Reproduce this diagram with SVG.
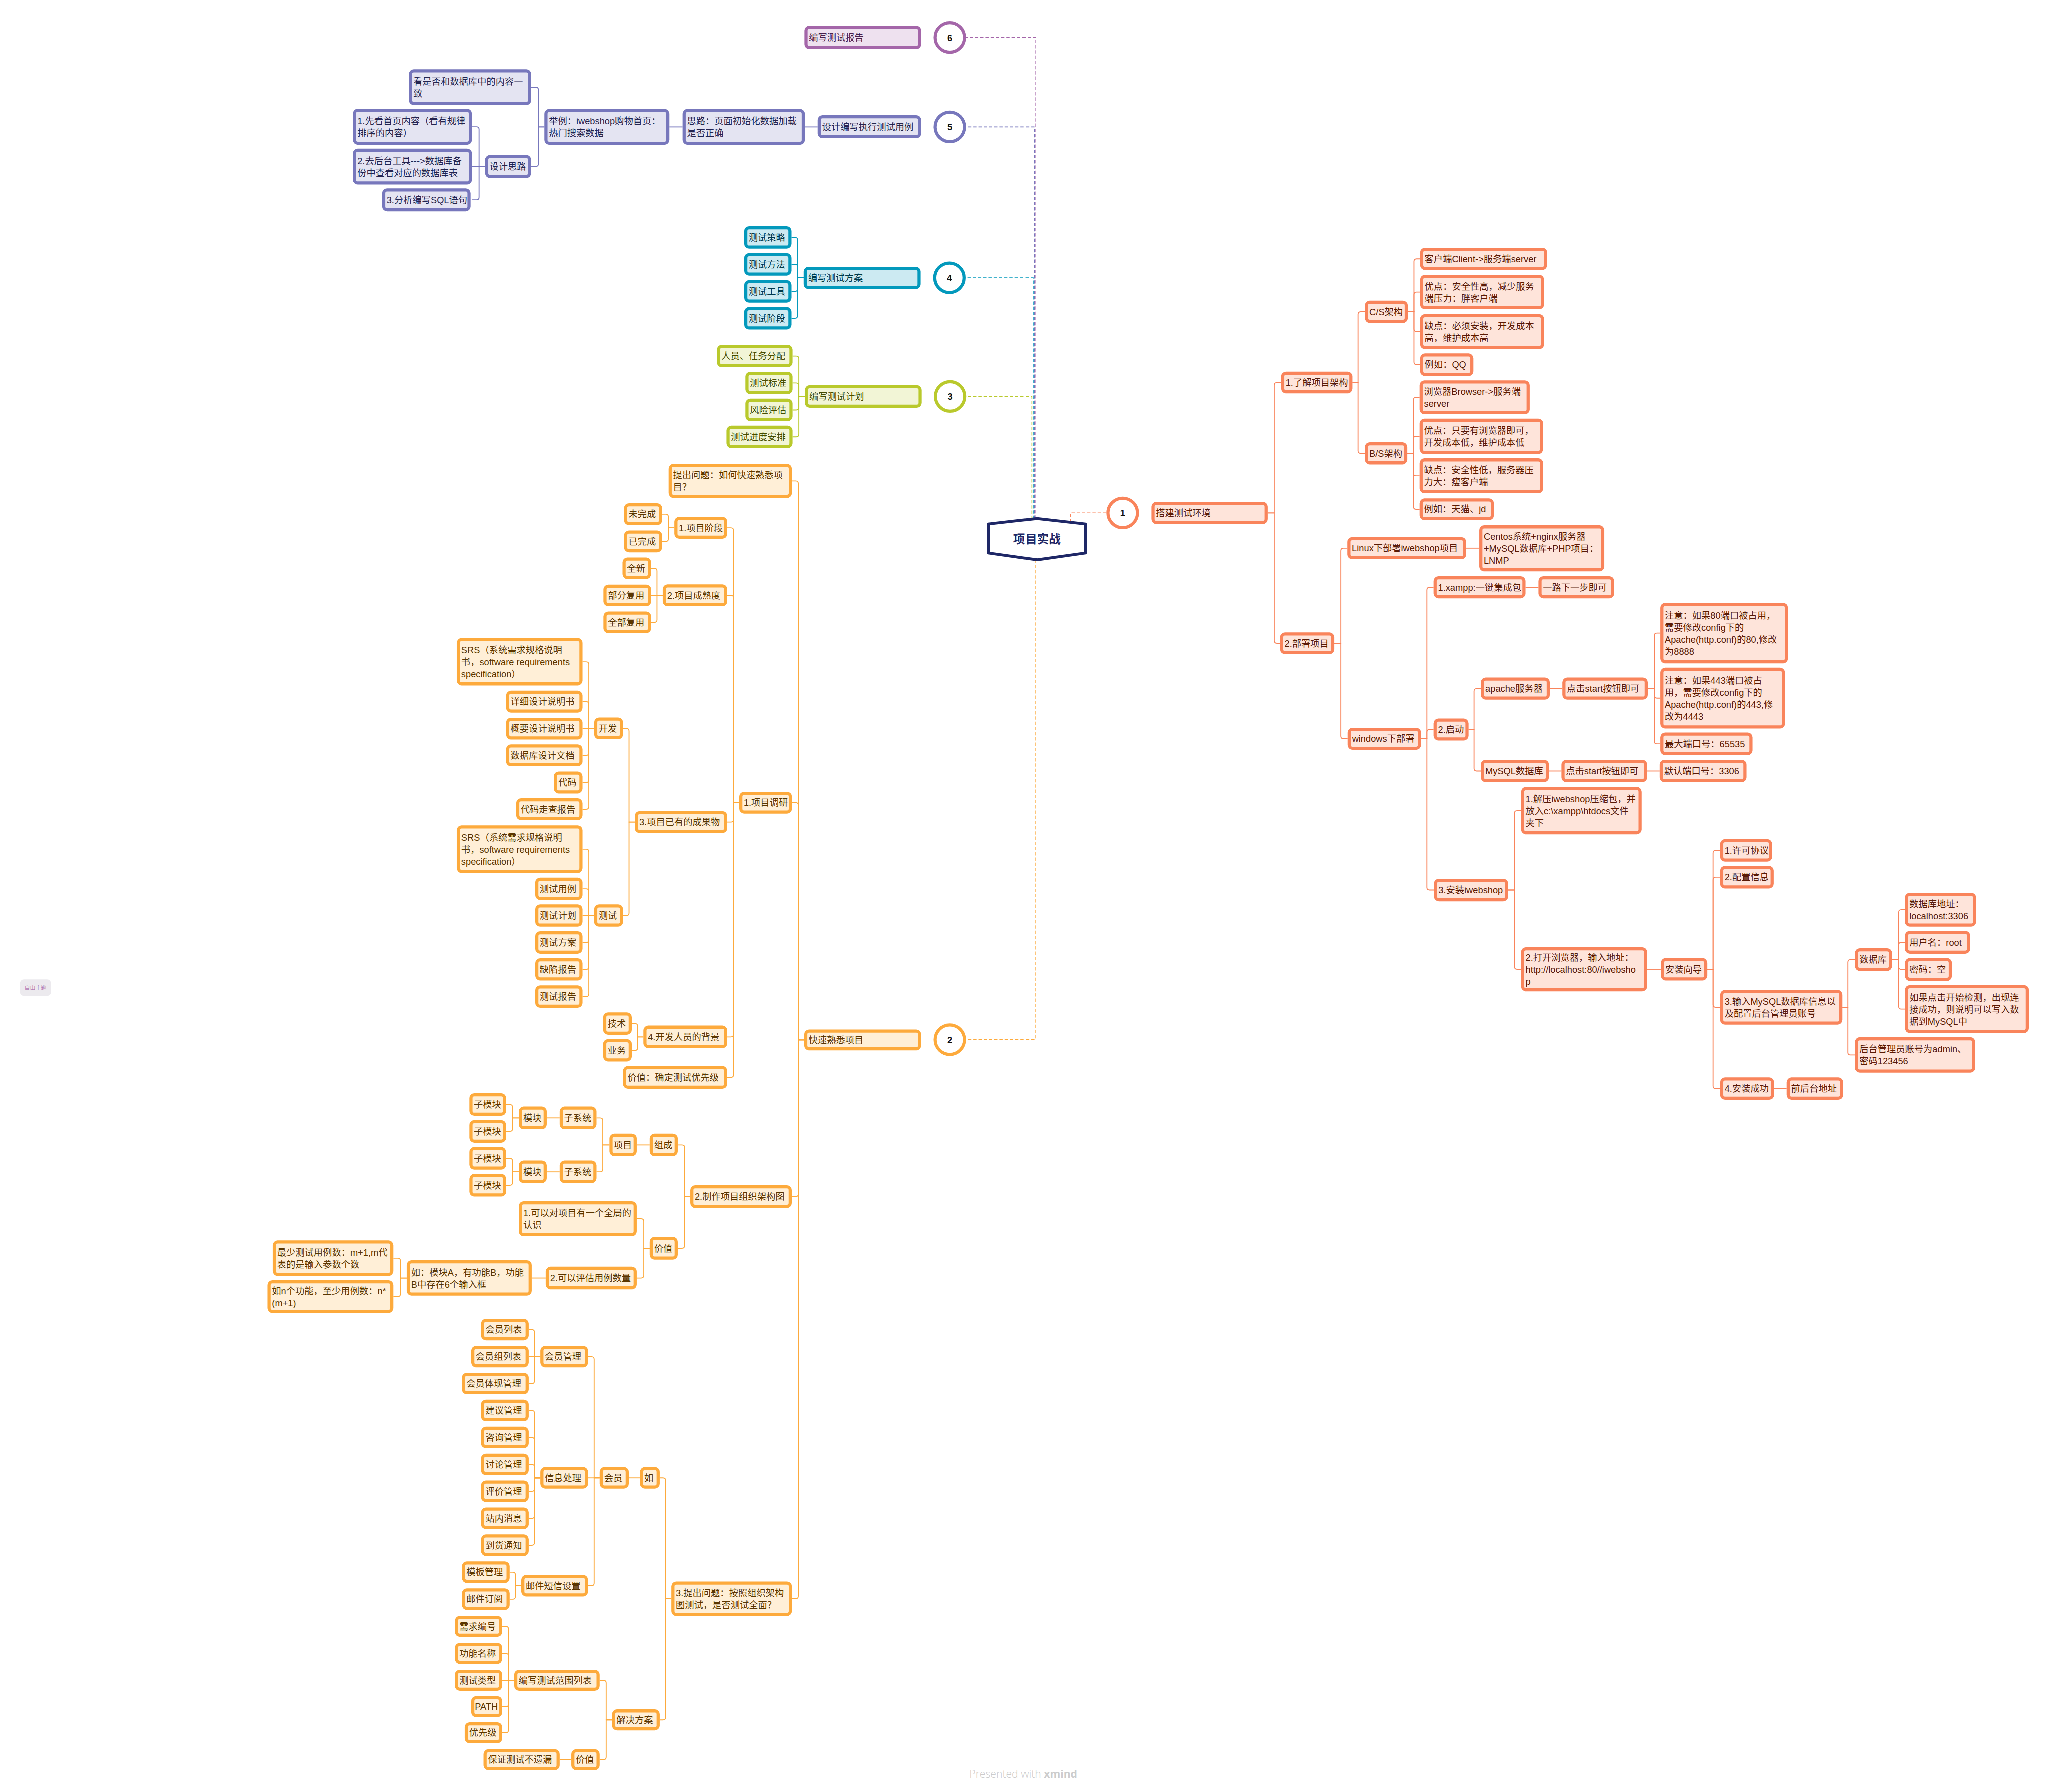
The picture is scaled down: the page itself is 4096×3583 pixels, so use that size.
<svg xmlns="http://www.w3.org/2000/svg" width="4096" height="3583" viewBox="0 0 4096 3583">
<style>
text{font-family:"Liberation Sans","Noto Sans CJK SC",sans-serif;font-size:7px;dominant-baseline:central}
.n rect{stroke-width:2.4px;rx:2.5px}
.o rect{fill:#FEE4DA;stroke:#F9845B}.o text{fill:#5A1A06}
.y rect{fill:#FFEFD7;stroke:#FDAA3C}.y text{fill:#5B3600}
.g rect{fill:#F2F5D6;stroke:#B9C92C}.g text{fill:#464D00}
.b rect{fill:#CCEAF2;stroke:#0399BC}.b text{fill:#00394A}
.v rect{fill:#E4E4F2;stroke:#7777BC}.v text{fill:#24244F}
.p rect{fill:#EEE1EF;stroke:#A466A9}.p text{fill:#47204D}
.cn path{fill:none;stroke-width:0.7px}
.dl path{fill:none;stroke-width:0.6px;stroke-dasharray:2.5 1.5}
.ci circle{fill:#fff;stroke-width:2.4px}
.ci text{font-weight:bold;text-anchor:middle;fill:#111}
</style>
<rect width="4096" height="3583" fill="#fff"/>
<g transform="scale(2.612245)">
<g id="connectors">
<g class="dl">
<path stroke="#F9845B" d="M819,399.7V392.5H846.5"/>
<path stroke="#FDAA3C" d="M792,428.3V795.8H739.5"/>
<path stroke="#B9C92C" d="M789.5,397.2V303.3H739.7"/>
<path stroke="#0399BC" d="M790.5,397.1V212.5H739.2"/>
<path stroke="#7777BC" d="M791.5,397V97H739.5"/>
<path stroke="#A466A9" d="M792.5,396.9V28.6H739.5"/>
</g>
<g class="cn" stroke="#F9845B">
<path d="M970,392.5H975V294.7Q975,292.7 977,292.7H980.3"/>
<path d="M970,392.5H975V490.3Q975,492.3 977,492.3H979.5"/>
<path d="M1034.9,292.7H1039.2V240.5Q1039.2,238.5 1041.2,238.5H1044.4"/>
<path d="M1034.9,292.7H1039.2V344.9Q1039.2,346.9 1041.2,346.9H1044.4"/>
<path d="M1077.3,238.5H1082V200Q1082,198 1084,198H1086.7"/>
<path d="M1077.3,238.5H1082V225.4Q1082,223.4 1084,223.4H1086.7"/>
<path d="M1077.3,238.5H1082V251.7Q1082,253.7 1084,253.7H1086.7"/>
<path d="M1077.3,238.5H1082V277Q1082,279 1084,279H1086.7"/>
<path d="M1076.9,346.9H1081.6V306Q1081.6,304 1083.6,304H1086.3"/>
<path d="M1076.9,346.9H1081.6V335.8Q1081.6,333.8 1083.6,333.8H1086.3"/>
<path d="M1076.9,346.9H1081.6V362.1Q1081.6,364.1 1083.6,364.1H1086.3"/>
<path d="M1076.9,346.9H1081.6V387.7Q1081.6,389.7 1083.6,389.7H1086.3"/>
<path d="M1021,492.3H1026V421.5Q1026,419.5 1028,419.5H1031"/>
<path d="M1021,492.3H1026V563.4Q1026,565.4 1028,565.4H1031.2"/>
<path d="M1122,419.5H1132"/>
<path d="M1087.4,565.4H1091.9V451.5Q1091.9,449.5 1093.9,449.5H1097"/>
<path d="M1087.4,565.4H1091.9V560.3Q1091.9,558.3 1093.9,558.3H1097"/>
<path d="M1087.4,565.4H1091.9V679.2Q1091.9,681.2 1093.9,681.2H1097.3"/>
<path d="M1167.4,449.5H1177.3"/>
<path d="M1123.8,558.3H1128V529Q1128,527 1130,527H1133.2"/>
<path d="M1123.8,558.3H1128V588.1Q1128,590.1 1130,590.1H1133.2"/>
<path d="M1186,527H1195.6"/>
<path d="M1261,527H1266V486.5Q1266,484.5 1268,484.5H1270.6"/>
<path d="M1261,527H1266V532.3Q1266,534.3 1268,534.3H1270.6"/>
<path d="M1261,527H1266V567.3Q1266,569.3 1268,569.3H1270.6"/>
<path d="M1185.3,590.1H1194.9"/>
<path d="M1260.5,590.1H1270.1"/>
<path d="M1154.1,681.2H1158.9V622.5Q1158.9,620.5 1160.9,620.5H1164"/>
<path d="M1154.1,681.2H1158.9V739.9Q1158.9,741.9 1160.9,741.9H1164"/>
<path d="M1260.5,741.9H1271"/>
<path d="M1306.6,741.9H1311V652.9Q1311,650.9 1313,650.9H1316.4"/>
<path d="M1306.6,741.9H1311V673.4Q1311,671.4 1313,671.4H1316.4"/>
<path d="M1306.6,741.9H1311V769Q1311,771 1313,771H1316.4"/>
<path d="M1306.6,741.9H1311V831.3Q1311,833.3 1313,833.3H1316.4"/>
<path d="M1357.7,833.3H1367.3"/>
<path d="M1410,771H1414.2V736.5Q1414.2,734.5 1416.2,734.5H1419.6"/>
<path d="M1410,771H1414.2V805.5Q1414.2,807.5 1416.2,807.5H1419.6"/>
<path d="M1448,734.5H1453.1V698.3Q1453.1,696.3 1455.1,696.3H1457.9"/>
<path d="M1448,734.5H1453.1V723.3Q1453.1,721.3 1455.1,721.3H1457.9"/>
<path d="M1448,734.5H1453.1V740Q1453.1,742 1455.1,742H1457.9"/>
<path d="M1448,734.5H1453.1V770.4Q1453.1,772.4 1455.1,772.4H1457.9"/>
</g>
<g class="cn" stroke="#FDAA3C">
<path d="M615.5,796H611V370Q611,368 609,368H606.1"/>
<path d="M615.5,796H611V616.3Q611,614.3 609,614.3H606.1"/>
<path d="M615.5,796H611V914Q611,916 609,916H606"/>
<path d="M615.5,796H611V1221.8Q611,1223.8 609,1223.8H606.1"/>
<path d="M565.8,614.3H561.4V405.9Q561.4,403.9 559.4,403.9H556.6"/>
<path d="M565.8,614.3H561.4V457.6Q561.4,455.6 559.4,455.6H556.6"/>
<path d="M565.8,614.3H561.4V627.2Q561.4,629.2 559.4,629.2H556.6"/>
<path d="M565.8,614.3H561.4V791.7Q561.4,793.7 559.4,793.7H556.6"/>
<path d="M565.8,614.3H561.4V822.7Q561.4,824.7 559.4,824.7H556.6"/>
<path d="M516.1,403.9H511.5V395.5Q511.5,393.5 509.5,393.5H506.7"/>
<path d="M516.1,403.9H511.5V412.4Q511.5,414.4 509.5,414.4H506.7"/>
<path d="M507.2,455.6H502.8V436.9Q502.8,434.9 500.8,434.9H498.3"/>
<path d="M507.2,455.6H498.3"/>
<path d="M507.2,455.6H502.8V474.3Q502.8,476.3 500.8,476.3H498.3"/>
<path d="M485.8,629.2H481.4V559.5Q481.4,557.5 479.4,557.5H476.8"/>
<path d="M485.8,629.2H481.4V698.8Q481.4,700.8 479.4,700.8H476.8"/>
<path d="M454.7,557.5H450.6V508.5Q450.6,506.5 448.6,506.5H445.8"/>
<path d="M454.7,557.5H450.6V539Q450.6,537 448.6,537H445.8"/>
<path d="M454.7,557.5H445.8"/>
<path d="M454.7,557.5H450.6V576.1Q450.6,578.1 448.6,578.1H445.8"/>
<path d="M454.7,557.5H450.6V596.9Q450.6,598.9 448.6,598.9H445.8"/>
<path d="M454.7,557.5H450.6V617.4Q450.6,619.4 448.6,619.4H445.8"/>
<path d="M454.7,700.8H450.6V652Q450.6,650 448.6,650H445.8"/>
<path d="M454.7,700.8H450.6V682.3Q450.6,680.3 448.6,680.3H445.8"/>
<path d="M454.7,700.8H445.8"/>
<path d="M454.7,700.8H450.6V719.4Q450.6,721.4 448.6,721.4H445.8"/>
<path d="M454.7,700.8H450.6V740Q450.6,742 448.6,742H445.8"/>
<path d="M454.7,700.8H450.6V760.8Q450.6,762.8 448.6,762.8H445.8"/>
<path d="M492.4,793.7H488V785.5Q488,783.5 486,783.5H483.5"/>
<path d="M492.4,793.7H488V802Q488,804 486,804H483.5"/>
<path d="M528.3,916H524V878.4Q524,876.4 522,876.4H518.7"/>
<path d="M528.3,916H524V953.5Q524,955.5 522,955.5H518.7"/>
<path d="M497.2,876.4H487.3"/>
<path d="M466.4,876.4H461.3V857.7Q461.3,855.7 459.3,855.7H456.5"/>
<path d="M466.4,876.4H461.3V895Q461.3,897 459.3,897H456.5"/>
<path d="M428.3,855.7H418.4"/>
<path d="M428.3,897H418.4"/>
<path d="M397,855.7H392.2V847.5Q392.2,845.5 390.2,845.5H387.3"/>
<path d="M397,855.7H392.2V864Q392.2,866 390.2,866H387.3"/>
<path d="M397,897H392.2V888.7Q392.2,886.7 390.2,886.7H387.3"/>
<path d="M397,897H392.2V905.3Q392.2,907.3 390.2,907.3H387.3"/>
<path d="M497.2,955.5H492.7V934.9Q492.7,932.9 490.7,932.9H487.3"/>
<path d="M497.2,955.5H492.7V976.3Q492.7,978.3 490.7,978.3H487.3"/>
<path d="M417.6,978.3H406.9"/>
<path d="M311.2,978.3H306.4V965.1Q306.4,963.1 304.4,963.1H301"/>
<path d="M311.2,978.3H306.4V990.5Q306.4,992.5 304.4,992.5H301"/>
<path d="M513.8,1223.8H509.4V1133.3Q509.4,1131.3 507.4,1131.3H504.9"/>
<path d="M513.8,1223.8H509.4V1314.6Q509.4,1316.6 507.4,1316.6H504.9"/>
<path d="M489.8,1131.3H481.2"/>
<path d="M458.9,1131.3H454.7V1040.5Q454.7,1038.5 452.7,1038.5H450"/>
<path d="M458.9,1131.3H450"/>
<path d="M458.9,1131.3H454.7V1211.9Q454.7,1213.9 452.7,1213.9H450"/>
<path d="M413.5,1038.5H409V1019.8Q409,1017.8 407,1017.8H404.6"/>
<path d="M413.5,1038.5H404.6"/>
<path d="M413.5,1038.5H409V1057.1Q409,1059.1 407,1059.1H404.6"/>
<path d="M413.5,1131.3H409V1081.7Q409,1079.7 407,1079.7H404.6"/>
<path d="M413.5,1131.3H409V1102.4Q409,1100.4 407,1100.4H404.6"/>
<path d="M413.5,1131.3H409V1123Q409,1121 407,1121H404.6"/>
<path d="M413.5,1131.3H409V1139.6Q409,1141.6 407,1141.6H404.6"/>
<path d="M413.5,1131.3H409V1160.3Q409,1162.3 407,1162.3H404.6"/>
<path d="M413.5,1131.3H409V1180.9Q409,1182.9 407,1182.9H404.6"/>
<path d="M398.9,1213.9H394.4V1205.5Q394.4,1203.5 392.4,1203.5H390"/>
<path d="M398.9,1213.9H394.4V1222.2Q394.4,1224.2 392.4,1224.2H390"/>
<path d="M468.4,1316.6H463.9V1288.3Q463.9,1286.3 461.9,1286.3H458.9"/>
<path d="M468.4,1316.6H463.9V1345Q463.9,1347 461.9,1347H458.9"/>
<path d="M437.2,1347H428.3"/>
<path d="M393.5,1286.3H389.1V1247Q389.1,1245 387.1,1245H384.3"/>
<path d="M393.5,1286.3H389.1V1267.7Q389.1,1265.7 387.1,1265.7H384.3"/>
<path d="M393.5,1286.3H384.3"/>
<path d="M393.5,1286.3H389.1V1304.5Q389.1,1306.5 387.1,1306.5H384.3"/>
<path d="M393.5,1286.3H389.1V1324.4Q389.1,1326.4 387.1,1326.4H384.3"/>
</g>
<g class="cn" stroke="#B9C92C">
<path d="M616,303.3H611.4V274.4Q611.4,272.4 609.4,272.4H606.6"/>
<path d="M616,303.3H611.4V295Q611.4,293 609.4,293H606.6"/>
<path d="M616,303.3H611.4V311.7Q611.4,313.7 609.4,313.7H606.6"/>
<path d="M616,303.3H611.4V332.3Q611.4,334.3 609.4,334.3H606.6"/>
</g>
<g class="cn" stroke="#0399BC">
<path d="M615.1,212.5H610.5V183.6Q610.5,181.6 608.5,181.6H605.8"/>
<path d="M615.1,212.5H610.5V204.2Q610.5,202.2 608.5,202.2H605.8"/>
<path d="M615.1,212.5H610.5V220.9Q610.5,222.9 608.5,222.9H605.8"/>
<path d="M615.1,212.5H610.5V241.5Q610.5,243.5 608.5,243.5H605.8"/>
</g>
<g class="cn" stroke="#7777BC">
<path d="M625.8,97H616"/>
<path d="M522.4,97H512.3"/>
<path d="M416.6,97H412V68.6Q412,66.6 410,66.6H406.5"/>
<path d="M416.6,97H412V125.3Q412,127.3 410,127.3H406.5"/>
<path d="M371.2,127.3H366.6V98.9Q366.6,96.9 364.6,96.9H361.1"/>
<path d="M371.2,127.3H361.1"/>
<path d="M371.2,127.3H366.6V150.8Q366.6,152.8 364.6,152.8H361.1"/>
</g>
</g>

<g id="center"><polygon points="756.5,401 793.5,396.8 830.5,401 830.5,423.2 793.5,428.4 756.5,423.2" fill="#fff" stroke="#1E2766" stroke-width="2.2" stroke-linejoin="round"/><text x="793.5" y="412.6" text-anchor="middle" style="font-size:9px;font-weight:bold;fill:#1E2766">项目实战</text></g>

<g class="ci">
<g id="c6"><circle cx="727" cy="28.6" r="11.3" stroke="#A466A9"/><text x="727" y="28.8">6</text></g>
<g id="c5"><circle cx="727" cy="97" r="11.3" stroke="#7777BC"/><text x="727" y="97.2">5</text></g>
<g id="c4"><circle cx="726.7" cy="212.5" r="11.3" stroke="#0399BC"/><text x="726.7" y="212.7">4</text></g>
<g id="c3"><circle cx="727.2" cy="303.3" r="11.3" stroke="#B9C92C"/><text x="727.2" y="303.5">3</text></g>
<g id="c1"><circle cx="859" cy="392.5" r="11.3" stroke="#F9845B"/><text x="859" y="392.7">1</text></g>
<g id="c2"><circle cx="727" cy="795.8" r="11.3" stroke="#FDAA3C"/><text x="727" y="796">2</text></g>
</g>

<g id="branch1">
<g id="A1" class="n o"><rect x="882.2" y="385.2" width="86.6" height="14.6"/><text x="884.4" y="392.5">搭建测试环境</text></g>
<g id="A2" class="n o"><rect x="981.5" y="285.5" width="52.2" height="14.3"/><text x="983.7" y="292.7">1.了解项目架构</text></g>
<g id="A3" class="n o"><rect x="980.7" y="485.2" width="39.1" height="14.3"/><text x="982.9" y="492.3">2.部署项目</text></g>
<g id="A4" class="n o"><rect x="1045.6" y="231.2" width="30.5" height="14.6"/><text x="1047.8" y="238.5">C/S架构</text></g>
<g id="A5" class="n o"><rect x="1045.6" y="339.6" width="30.1" height="14.6"/><text x="1047.8" y="346.9">B/S架构</text></g>
<g id="A6" class="n o"><rect x="1087.9" y="190.7" width="94.9" height="14.6"/><text x="1090.1" y="198">客户端Client-&gt;服务端server</text></g>
<g id="A7" class="n o"><rect x="1087.9" y="211.4" width="92.5" height="24"/><text><tspan x="1090.1" y="218.8">优点：安全性高，减少服务</tspan><tspan x="1090.1" y="228">端压力：胖客户端</tspan></text></g>
<g id="A8" class="n o"><rect x="1087.9" y="241.5" width="92.5" height="24.4"/><text><tspan x="1090.1" y="249.1">缺点：必须安装，开发成本</tspan><tspan x="1090.1" y="258.3">高，维护成本高</tspan></text></g>
<g id="A9" class="n o"><rect x="1087.9" y="271.6" width="38.4" height="14.9"/><text x="1090.1" y="279">例如：QQ</text></g>
<g id="A10" class="n o"><rect x="1087.5" y="292.2" width="81.9" height="23.6"/><text><tspan x="1089.7" y="299.4">浏览器Browser-&gt;服务端</tspan><tspan x="1089.7" y="308.6">server</tspan></text></g>
<g id="A11" class="n o"><rect x="1087.5" y="321.5" width="92.2" height="24.7"/><text><tspan x="1089.7" y="329.2">优点：只要有浏览器即可，</tspan><tspan x="1089.7" y="338.4">开发成本低，维护成本低</tspan></text></g>
<g id="A12" class="n o"><rect x="1087.5" y="351.9" width="92.2" height="24.4"/><text><tspan x="1089.7" y="359.5">缺点：安全性低，服务器压</tspan><tspan x="1089.7" y="368.7">力大：瘦客户端</tspan></text></g>
<g id="A13" class="n o"><rect x="1087.5" y="382.6" width="54.5" height="14.3"/><text x="1089.7" y="389.7">例如：天猫、jd</text></g>
<g id="A14" class="n o"><rect x="1032.2" y="412.2" width="88.6" height="14.6"/><text x="1034.4" y="419.5">Linux下部署iwebshop项目</text></g>
<g id="A15" class="n o"><rect x="1133.2" y="403.2" width="93.3" height="32.9"/><text><tspan x="1135.4" y="410.4">Centos系统+nginx服务器</tspan><tspan x="1135.4" y="419.6">+MySQL数据库+PHP项目：</tspan><tspan x="1135.4" y="428.8">LNMP</tspan></text></g>
<g id="A16" class="n o"><rect x="1032.4" y="558.2" width="53.8" height="14.5"/><text x="1034.6" y="565.4">windows下部署</text></g>
<g id="A17" class="n o"><rect x="1098.2" y="442.2" width="68" height="14.5"/><text x="1100.4" y="449.5">1.xampp:一键集成包</text></g>
<g id="A18" class="n o"><rect x="1178.5" y="442.2" width="55.6" height="14.5"/><text x="1180.7" y="449.5">一路下一步即可</text></g>
<g id="A19" class="n o"><rect x="1098.2" y="551.1" width="24.4" height="14.5"/><text x="1100.4" y="558.3">2.启动</text></g>
<g id="A20" class="n o"><rect x="1098.5" y="673.8" width="54.4" height="14.9"/><text x="1100.7" y="681.2">3.安装iwebshop</text></g>
<g id="A21" class="n o"><rect x="1134.4" y="519.7" width="50.4" height="14.6"/><text x="1136.6" y="527">apache服务器</text></g>
<g id="A22" class="n o"><rect x="1196.8" y="519.7" width="63" height="14.6"/><text x="1199" y="527">点击start按钮即可</text></g>
<g id="A23" class="n o"><rect x="1271.8" y="462.6" width="95.3" height="43.9"/><text><tspan x="1274" y="470.7">注意：如果80端口被占用，</tspan><tspan x="1274" y="479.9">需要修改config下的</tspan><tspan x="1274" y="489.1">Apache(http.conf)的80,修改</tspan><tspan x="1274" y="498.3">为8888</tspan></text></g>
<g id="A24" class="n o"><rect x="1271.8" y="512.2" width="93" height="44.2"/><text><tspan x="1274" y="520.5">注意：如果443端口被占</tspan><tspan x="1274" y="529.7">用，需要修改config下的</tspan><tspan x="1274" y="538.9">Apache(http.conf)的443,修</tspan><tspan x="1274" y="548.1">改为4443</tspan></text></g>
<g id="A25" class="n o"><rect x="1271.8" y="561.8" width="68.2" height="15"/><text x="1274" y="569.3">最大端口号：65535</text></g>
<g id="A26" class="n o"><rect x="1134.4" y="582.7" width="49.7" height="14.8"/><text x="1136.6" y="590.1">MySQL数据库</text></g>
<g id="A27" class="n o"><rect x="1196.1" y="582.7" width="63.2" height="14.8"/><text x="1198.3" y="590.1">点击start按钮即可</text></g>
<g id="A28" class="n o"><rect x="1271.3" y="582.7" width="64.1" height="14.8"/><text x="1273.5" y="590.1">默认端口号：3306</text></g>
<g id="A29" class="n o"><rect x="1165.2" y="603.5" width="89.9" height="33.9"/><text><tspan x="1167.4" y="611.3">1.解压iwebshop压缩包，并</tspan><tspan x="1167.4" y="620.5">放入c:\xampp\htdocs文件</tspan><tspan x="1167.4" y="629.7">夹下</tspan></text></g>
<g id="A30" class="n o"><rect x="1165.2" y="726.2" width="94.1" height="31.4"/><text><tspan x="1167.4" y="732.7">2.打开浏览器，输入地址：</tspan><tspan x="1167.4" y="741.9">http://localhost:80//iwebsho</tspan><tspan x="1167.4" y="751.1">p</tspan></text></g>
<g id="A31" class="n o"><rect x="1272.2" y="734.5" width="33.2" height="14.8"/><text x="1274.4" y="741.9">安装向导</text></g>
<g id="A32" class="n o"><rect x="1317.6" y="643.5" width="37.4" height="14.8"/><text x="1319.8" y="650.9">1.许可协议</text></g>
<g id="A33" class="n o"><rect x="1317.6" y="663.9" width="38.6" height="15"/><text x="1319.8" y="671.4">2.配置信息</text></g>
<g id="A34" class="n o"><rect x="1317.6" y="758.9" width="91.2" height="24.2"/><text><tspan x="1319.8" y="766.4">3.输入MySQL数据库信息以</tspan><tspan x="1319.8" y="775.6">及配置后台管理员账号</tspan></text></g>
<g id="A35" class="n o"><rect x="1317.6" y="825.9" width="38.9" height="14.7"/><text x="1319.8" y="833.3">4.安装成功</text></g>
<g id="A36" class="n o"><rect x="1368.5" y="825.9" width="40.9" height="14.7"/><text x="1370.7" y="833.3">前后台地址</text></g>
<g id="A37" class="n o"><rect x="1420.8" y="727" width="26" height="15"/><text x="1423" y="734.5">数据库</text></g>
<g id="A38" class="n o"><rect x="1420.8" y="795.1" width="89.7" height="24.7"/><text><tspan x="1423" y="802.9">后台管理员账号为admin、</tspan><tspan x="1423" y="812.1">密码123456</tspan></text></g>
<g id="A39" class="n o"><rect x="1459.1" y="684.5" width="52" height="23.6"/><text><tspan x="1461.3" y="691.7">数据库地址：</tspan><tspan x="1461.3" y="700.9">localhost:3306</tspan></text></g>
<g id="A40" class="n o"><rect x="1459.1" y="713.7" width="47.5" height="15.1"/><text x="1461.3" y="721.3">用户名：root</text></g>
<g id="A41" class="n o"><rect x="1459.1" y="734.5" width="33.5" height="15.1"/><text x="1461.3" y="742">密码：空</text></g>
<g id="A42" class="n o"><rect x="1459.1" y="755.2" width="92.4" height="34.3"/><text><tspan x="1461.3" y="763.2">如果点击开始检测，出现连</tspan><tspan x="1461.3" y="772.4">接成功，则说明可以写入数</tspan><tspan x="1461.3" y="781.6">据到MySQL中</tspan></text></g>
</g>

<g id="branch2">
<g id="B0" class="n y"><rect x="616.7" y="789.2" width="87.1" height="13.6"/><text x="618.9" y="796">快速熟悉项目</text></g>
<g id="B1" class="n y"><rect x="512.9" y="356.2" width="92" height="23.6"/><text><tspan x="515.1" y="363.4">提出问题：如何快速熟悉项</tspan><tspan x="515.1" y="372.6">目？</tspan></text></g>
<g id="B2" class="n y"><rect x="567" y="607.2" width="37.9" height="14.3"/><text x="569.2" y="614.3">1.项目调研</text></g>
<g id="B3" class="n y"><rect x="529.5" y="908.5" width="75.3" height="14.9"/><text x="531.7" y="916">2.制作项目组织架构图</text></g>
<g id="B4" class="n y"><rect x="515" y="1211.8" width="89.9" height="24"/><text><tspan x="517.2" y="1219.2">3.提出问题：按照组织架构</tspan><tspan x="517.2" y="1228.4">图测试，是否测试全面？</tspan></text></g>
<g id="B5" class="n y"><rect x="517.3" y="396.7" width="38.1" height="14.4"/><text x="519.5" y="403.9">1.项目阶段</text></g>
<g id="B6" class="n y"><rect x="508.4" y="448.4" width="47" height="14.4"/><text x="510.6" y="455.6">2.项目成熟度</text></g>
<g id="B7" class="n y"><rect x="487" y="622" width="68.4" height="14.4"/><text x="489.2" y="629.2">3.项目已有的成果物</text></g>
<g id="B8" class="n y"><rect x="493.6" y="786.2" width="61.8" height="14.9"/><text x="495.8" y="793.7">4.开发人员的背景</text></g>
<g id="B9" class="n y"><rect x="478" y="817.2" width="77.4" height="15"/><text x="480.2" y="824.7">价值：确定测试优先级</text></g>
<g id="B10" class="n y"><rect x="478.8" y="386.3" width="26.7" height="14.4"/><text x="481" y="393.5">未完成</text></g>
<g id="B11" class="n y"><rect x="478.8" y="407.2" width="26.7" height="14.3"/><text x="481" y="414.4">已完成</text></g>
<g id="B12" class="n y"><rect x="477.6" y="427.8" width="19.5" height="14.1"/><text x="479.8" y="434.9">全新</text></g>
<g id="B13" class="n y"><rect x="463" y="448.6" width="34.1" height="14.2"/><text x="465.2" y="455.7">部分复用</text></g>
<g id="B14" class="n y"><rect x="463" y="469.2" width="34.1" height="14.2"/><text x="465.2" y="476.3">全部复用</text></g>
<g id="B15" class="n y"><rect x="455.9" y="550.3" width="19.7" height="14.3"/><text x="458.1" y="557.5">开发</text></g>
<g id="B16" class="n y"><rect x="455.9" y="693.4" width="19.7" height="14.7"/><text x="458.1" y="700.8">测试</text></g>
<g id="B17" class="n y"><rect x="350.7" y="489.5" width="93.9" height="33.9"/><text><tspan x="352.9" y="497.3">SRS（系统需求规格说明</tspan><tspan x="352.9" y="506.5">书，software requirements</tspan><tspan x="352.9" y="515.7">specification）</tspan></text></g>
<g id="B18" class="n y"><rect x="388.5" y="529.8" width="56.1" height="14.4"/><text x="390.7" y="537">详细设计说明书</text></g>
<g id="B19" class="n y"><rect x="388.5" y="550.5" width="56.1" height="14.3"/><text x="390.7" y="557.7">概要设计说明书</text></g>
<g id="B20" class="n y"><rect x="388.5" y="570.9" width="56.1" height="14.4"/><text x="390.7" y="578.1">数据库设计文档</text></g>
<g id="B21" class="n y"><rect x="425" y="591.7" width="19.6" height="14.4"/><text x="427.2" y="598.9">代码</text></g>
<g id="B22" class="n y"><rect x="396.2" y="612.2" width="48.4" height="14.3"/><text x="398.4" y="619.4">代码走查报告</text></g>
<g id="B23" class="n y"><rect x="350.7" y="632.9" width="93.9" height="34.1"/><text><tspan x="352.9" y="640.8">SRS（系统需求规格说明</tspan><tspan x="352.9" y="650">书，software requirements</tspan><tspan x="352.9" y="659.2">specification）</tspan></text></g>
<g id="B24" class="n y"><rect x="410.8" y="672.9" width="33.8" height="14.7"/><text x="413" y="680.3">测试用例</text></g>
<g id="B25" class="n y"><rect x="410.8" y="693.4" width="33.8" height="14.7"/><text x="413" y="700.8">测试计划</text></g>
<g id="B26" class="n y"><rect x="410.8" y="714" width="33.8" height="14.8"/><text x="413" y="721.4">测试方案</text></g>
<g id="B27" class="n y"><rect x="410.8" y="734.7" width="33.8" height="14.6"/><text x="413" y="742">缺陷报告</text></g>
<g id="B28" class="n y"><rect x="410.8" y="755.4" width="33.8" height="14.8"/><text x="413" y="762.8">测试报告</text></g>
<g id="B29" class="n y"><rect x="462.8" y="776.1" width="19.5" height="14.7"/><text x="465" y="783.5">技术</text></g>
<g id="B30" class="n y"><rect x="462.8" y="796.6" width="19.5" height="14.7"/><text x="465" y="804">业务</text></g>
<g id="B31" class="n y"><rect x="498.4" y="868.9" width="19.1" height="14.9"/><text x="500.6" y="876.4">组成</text></g>
<g id="B32" class="n y"><rect x="498.4" y="948" width="19.1" height="15"/><text x="500.6" y="955.5">价值</text></g>
<g id="B33" class="n y"><rect x="467.6" y="868.9" width="18.5" height="14.9"/><text x="469.6" y="876.4">项目</text></g>
<g id="B34" class="n y"><rect x="429.5" y="848.2" width="25.8" height="15"/><text x="431.6" y="855.7">子系统</text></g>
<g id="B35" class="n y"><rect x="429.5" y="889.5" width="25.8" height="14.9"/><text x="431.6" y="897">子系统</text></g>
<g id="B36" class="n y"><rect x="398.2" y="848.2" width="19" height="15"/><text x="400.4" y="855.7">模块</text></g>
<g id="B37" class="n y"><rect x="398.2" y="889.5" width="19" height="14.9"/><text x="400.4" y="897">模块</text></g>
<g id="B38" class="n y"><rect x="360.4" y="838" width="25.7" height="14.9"/><text x="362.5" y="845.5">子模块</text></g>
<g id="B39" class="n y"><rect x="360.4" y="858.6" width="25.7" height="14.9"/><text x="362.5" y="866">子模块</text></g>
<g id="B40" class="n y"><rect x="360.4" y="879.2" width="25.7" height="14.9"/><text x="362.5" y="886.7">子模块</text></g>
<g id="B41" class="n y"><rect x="360.4" y="899.8" width="25.7" height="14.9"/><text x="362.5" y="907.3">子模块</text></g>
<g id="B42" class="n y"><rect x="398.2" y="920.7" width="87.9" height="24.4"/><text><tspan x="400.4" y="928.3">1.可以对项目有一个全局的</tspan><tspan x="400.4" y="937.5">认识</tspan></text></g>
<g id="B43" class="n y"><rect x="418.8" y="970.8" width="67.3" height="15"/><text x="421" y="978.3">2.可以评估用例数量</text></g>
<g id="B44" class="n y"><rect x="312.4" y="965.9" width="93.3" height="24.7"/><text><tspan x="314.6" y="973.7">如：模块A，有功能B，功能</tspan><tspan x="314.6" y="982.9">B中存在6个输入框</tspan></text></g>
<g id="B45" class="n y"><rect x="209.8" y="950.7" width="90" height="24.8"/><text><tspan x="212" y="958.5">最少测试用例数：m+1,m代</tspan><tspan x="212" y="967.7">表的是输入参数个数</tspan></text></g>
<g id="B46" class="n y"><rect x="205.8" y="981.2" width="94" height="22.6"/><text><tspan x="208" y="987.9">如n个功能，至少用例数：n*</tspan><tspan x="208" y="997.1">(m+1)</tspan></text></g>
<g id="B47" class="n y"><rect x="491" y="1124.2" width="12.7" height="14.1"/><text x="493.1" y="1131.3">如</text></g>
<g id="B48" class="n y"><rect x="469.6" y="1309.7" width="34.1" height="13.7"/><text x="471.8" y="1316.6">解决方案</text></g>
<g id="B49" class="n y"><rect x="460.1" y="1124.2" width="19.9" height="14.1"/><text x="462.3" y="1131.3">会员</text></g>
<g id="B50" class="n y"><rect x="414.7" y="1031.4" width="34.1" height="14.1"/><text x="416.9" y="1038.5">会员管理</text></g>
<g id="B51" class="n y"><rect x="414.7" y="1124.2" width="34.1" height="14.1"/><text x="416.9" y="1131.3">信息处理</text></g>
<g id="B52" class="n y"><rect x="400.1" y="1206.8" width="48.7" height="14.1"/><text x="402.3" y="1213.9">邮件短信设置</text></g>
<g id="B53" class="n y"><rect x="369.3" y="1010.7" width="34.1" height="14.1"/><text x="371.5" y="1017.8">会员列表</text></g>
<g id="B54" class="n y"><rect x="361.8" y="1031.4" width="41.6" height="14.1"/><text x="364" y="1038.5">会员组列表</text></g>
<g id="B55" class="n y"><rect x="354.7" y="1052" width="48.7" height="14.1"/><text x="356.9" y="1059.1">会员体现管理</text></g>
<g id="B56" class="n y"><rect x="369.3" y="1072.6" width="34.1" height="14.2"/><text x="371.5" y="1079.7">建议管理</text></g>
<g id="B57" class="n y"><rect x="369.3" y="1093.3" width="34.1" height="14.1"/><text x="371.5" y="1100.4">咨询管理</text></g>
<g id="B58" class="n y"><rect x="369.3" y="1113.9" width="34.1" height="14.1"/><text x="371.5" y="1121">讨论管理</text></g>
<g id="B59" class="n y"><rect x="369.3" y="1134.5" width="34.1" height="14.1"/><text x="371.5" y="1141.6">评价管理</text></g>
<g id="B60" class="n y"><rect x="369.3" y="1155.2" width="34.1" height="14.1"/><text x="371.5" y="1162.3">站内消息</text></g>
<g id="B61" class="n y"><rect x="369.3" y="1175.8" width="34.1" height="14.1"/><text x="371.5" y="1182.9">到货通知</text></g>
<g id="B62" class="n y"><rect x="354.7" y="1196.4" width="34.1" height="14.1"/><text x="356.9" y="1203.5">模板管理</text></g>
<g id="B63" class="n y"><rect x="354.7" y="1217.1" width="34.1" height="14.1"/><text x="356.9" y="1224.2">邮件订阅</text></g>
<g id="B64" class="n y"><rect x="394.7" y="1279.4" width="63" height="13.7"/><text x="396.9" y="1286.3">编写测试范围列表</text></g>
<g id="B65" class="n y"><rect x="438.4" y="1340.2" width="19.3" height="13.6"/><text x="440.6" y="1347">价值</text></g>
<g id="B66" class="n y"><rect x="349.3" y="1238.2" width="33.8" height="13.6"/><text x="351.5" y="1245">需求编号</text></g>
<g id="B67" class="n y"><rect x="349.3" y="1258.8" width="33.8" height="13.7"/><text x="351.5" y="1265.7">功能名称</text></g>
<g id="B68" class="n y"><rect x="349.3" y="1279.4" width="33.8" height="13.7"/><text x="351.5" y="1286.3">测试类型</text></g>
<g id="B69" class="n y"><rect x="361.8" y="1299.6" width="21.3" height="13.7"/><text x="363.4" y="1306.5">PATH</text></g>
<g id="B70" class="n y"><rect x="356.8" y="1319.6" width="26.3" height="13.6"/><text x="359" y="1326.4">优先级</text></g>
<g id="B71" class="n y"><rect x="371.2" y="1340.2" width="55.9" height="13.6"/><text x="373.4" y="1347">保证测试不遗漏</text></g>
</g>

<g id="branch3">
<g id="C0" class="n g"><rect x="617.2" y="295.9" width="87" height="14.9"/><text x="619.4" y="303.3">编写测试计划</text></g>
<g id="C1" class="n g"><rect x="549.9" y="265" width="55.5" height="14.8"/><text x="552.1" y="272.4">人员、任务分配</text></g>
<g id="C2" class="n g"><rect x="571.7" y="285.6" width="33.7" height="14.8"/><text x="573.9" y="293">测试标准</text></g>
<g id="C3" class="n g"><rect x="571.7" y="306.2" width="33.7" height="14.9"/><text x="573.9" y="313.7">风险评估</text></g>
<g id="C4" class="n g"><rect x="557.2" y="326.9" width="48.2" height="14.8"/><text x="559.4" y="334.3">测试进度安排</text></g>
</g>

<g id="branch4">
<g id="D0" class="n b"><rect x="616.3" y="205.2" width="87.1" height="14.7"/><text x="618.5" y="212.5">编写测试方案</text></g>
<g id="D1" class="n b"><rect x="570.8" y="174.2" width="33.8" height="14.8"/><text x="573" y="181.6">测试策略</text></g>
<g id="D2" class="n b"><rect x="570.8" y="194.8" width="33.8" height="14.8"/><text x="573" y="202.2">测试方法</text></g>
<g id="D3" class="n b"><rect x="570.8" y="215.5" width="33.8" height="14.8"/><text x="573" y="222.9">测试工具</text></g>
<g id="D4" class="n b"><rect x="570.8" y="236.1" width="33.8" height="14.8"/><text x="573" y="243.5">测试阶段</text></g>
</g>

<g id="branch5">
<g id="E0" class="n v"><rect x="627" y="89.2" width="76.8" height="15.3"/><text x="629.2" y="96.9">设计编写执行测试用例</text></g>
<g id="E1" class="n v"><rect x="523.6" y="84.5" width="91.2" height="25"/><text><tspan x="525.8" y="92.4">思路：页面初始化数据加载</tspan><tspan x="525.8" y="101.6">是否正确</tspan></text></g>
<g id="E2" class="n v"><rect x="417.8" y="84.5" width="93.3" height="25"/><text><tspan x="420" y="92.4">举例：iwebshop购物首页：</tspan><tspan x="420" y="101.6">热门搜索数据</tspan></text></g>
<g id="E3" class="n v"><rect x="314.1" y="54.1" width="91.2" height="25"/><text><tspan x="316.3" y="62">看是否和数据库中的内容一</tspan><tspan x="316.3" y="71.2">致</tspan></text></g>
<g id="E4" class="n v"><rect x="372.4" y="119.7" width="32.9" height="15.2"/><text x="374.6" y="127.3">设计思路</text></g>
<g id="E5" class="n v"><rect x="271.2" y="84.3" width="88.7" height="25.2"/><text><tspan x="273.4" y="92.3">1.先看首页内容（看有规律</tspan><tspan x="273.4" y="101.5">排序的内容）</tspan></text></g>
<g id="E6" class="n v"><rect x="271.2" y="114.8" width="88.7" height="25.1"/><text><tspan x="273.4" y="122.8">2.去后台工具---&gt;数据库备</tspan><tspan x="273.4" y="132">份中查看对应的数据库表</tspan></text></g>
<g id="E7" class="n v"><rect x="293.6" y="145.2" width="65.3" height="15.2"/><text x="295.8" y="152.8">3.分析编写SQL语句</text></g>
</g>

<g id="branch6">
<g id="F0" class="n p"><rect x="616.9" y="20.8" width="86.9" height="15.5"/><text x="619.1" y="28.6">编写测试报告</text></g>
</g>

<g id="free"><rect x="15.2" y="749.6" width="23.7" height="12.7" rx="3" fill="#ECEAEE"/><text x="27" y="756" text-anchor="middle" style="font-size:4.2px;fill:#B07AB8">自由主题</text></g>
<text x="742" y="1357.5" style="font-family:'Open Sans','Liberation Sans',sans-serif;font-size:8.1px;fill:#CCCCCC;font-weight:300">Presented with <tspan style="font-weight:bold">xmind</tspan></text>
</g>
</svg>
